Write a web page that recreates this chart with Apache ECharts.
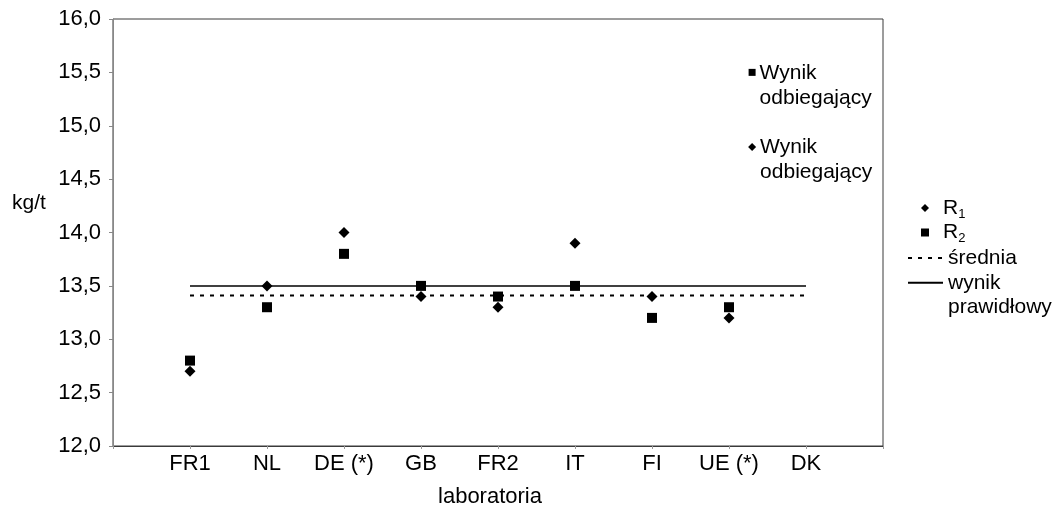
<!DOCTYPE html>
<html>
<head>
<meta charset="utf-8">
<script src="https://cdn.jsdelivr.net/npm/echarts@6/dist/echarts.min.js"></script>
<style>
html,body{margin:0;padding:0;background:#fff;}
#chart{width:1062px;height:513px;}
</style>
</head>
<body>
<div id="chart"></div>
<script>
// ---- data ----
var categories = ['FR1', 'NL', 'DE (*)', 'GB', 'FR2', 'IT', 'FI', 'UE (*)', 'DK'];
var r1Values = [12.7, 13.5, 14.0, 13.4, 13.3, 13.9, 13.4, 13.2];
var r2Values = [12.8, 13.3, 13.8, 13.5, 13.4, 13.5, 13.2, 13.3];
var meanValue = 13.41;        // średnia
var trueValue = 13.5;         // wynik prawidłowy
var outlierX = 8.3;           // annotation markers for outlying results
var outlierR2 = 15.5;
var outlierR1 = 14.8;
var yTicks = { min: 12, max: 16, step: 0.5 };

// ---- build ----
function pts(vals) { return vals.map(function (v, i) { return [i + 1, v]; }); }
var FONT = '"Liberation Sans", Arial, sans-serif';
var TXT = '#000';

var chart = echarts.init(document.getElementById('chart'), null, { renderer: 'canvas' });
var option = {
  backgroundColor: '#fff',
  animation: false,
  textStyle: { fontFamily: FONT, color: TXT },
  grid: { left: 113, right: 179, top: 19, bottom: 67, show: true, borderColor: '#3a3a3a', borderWidth: 1 },
  graphic: [
    { type: 'text', left: 12, top: 193, style: { text: 'kg/t', font: '21px ' + FONT, fill: TXT } }
  ],
  xAxis: {
    type: 'value', min: 0, max: categories.length + 1, interval: 1,
    splitLine: { show: false },
    axisLine: { lineStyle: { color: '#3a3a3a', width: 1 } },
    axisTick: { show: true, length: 3, lineStyle: { color: '#999' } },
    axisLabel: {
      margin: 7, fontSize: 22, color: TXT, fontFamily: FONT,
      formatter: function (v) { return categories[v - 1] || ''; }
    },
    name: 'laboratoria', nameLocation: 'middle', nameGap: 40,
    nameTextStyle: { fontSize: 22, color: TXT, fontFamily: FONT, padding: [0, 16, 0, 0] }
  },
  yAxis: {
    type: 'value', min: yTicks.min, max: yTicks.max, interval: yTicks.step,
    splitLine: { show: false },
    axisLine: { show: true, lineStyle: { color: '#888', width: 1 } },
    axisTick: { show: true, length: 4, lineStyle: { color: '#888' } },
    axisLabel: {
      margin: 12, fontSize: 22, color: TXT, fontFamily: FONT,
      formatter: function (v) { return v.toFixed(1).replace('.', ','); }
    }
  },
  legend: [
    {
      orient: 'vertical', left: 916, top: 191, itemWidth: 8, itemHeight: 8, itemGap: 0,
      data: ['R1', 'R2'],
      formatter: function (n) { return n === 'R1' ? 'R{s|1}' : 'R{s|2}'; },
      textStyle: {
        fontSize: 21, lineHeight: 24, color: TXT, fontFamily: FONT, padding: [0, 0, 0, 9],
        rich: { s: { fontSize: 13, fontFamily: FONT, color: TXT, padding: [12, 0, 0, 0] } }
      }
    },
    {
      orient: 'vertical', left: 902, top: 241, itemWidth: 35, itemHeight: 8,
      data: [{ name: 'średnia', itemStyle: { opacity: 0 } }],
      textStyle: { fontSize: 21, lineHeight: 24, color: TXT, fontFamily: FONT }
    },
    {
      orient: 'vertical', left: 902, top: 241, itemWidth: 35, itemHeight: 8,
      data: [{ name: 'wynik prawidłowy', itemStyle: { opacity: 0 } }],
      formatter: function () { return '\u00a0\nwynik\nprawidłowy'; },
      textStyle: { fontSize: 21, lineHeight: 24.5, color: TXT, fontFamily: FONT }
    }
  ],
  series: [
    {
      name: 'R1', type: 'scatter', data: pts(r1Values),
      symbol: 'diamond', symbolSize: 11, itemStyle: { color: '#000', opacity: 1 }, z: 5
    },
    {
      name: 'R2', type: 'scatter', data: pts(r2Values),
      symbol: 'rect', symbolSize: 10, itemStyle: { color: '#000', opacity: 1 }, z: 4
    },
    {
      name: 'średnia', type: 'line', data: [[1, meanValue], [categories.length, meanValue]],
      symbol: 'none', lineStyle: { color: '#000', width: 2, type: [4, 6] }, itemStyle: { color: '#000' }, z: 2
    },
    {
      name: 'wynik prawidłowy', type: 'line', data: [[1, trueValue], [categories.length, trueValue]],
      symbol: 'none', lineStyle: { color: '#000', width: 1.5, type: 'solid' }, itemStyle: { color: '#000' }, z: 3
    },
    {
      name: 'odbiegający R2', type: 'scatter', data: [[outlierX, outlierR2]],
      symbol: 'rect', symbolSize: 7, itemStyle: { color: '#000', opacity: 1 },
      label: {
        show: true, position: 'right', distance: 4, verticalAlign: 'top', offset: [0, -12],
        formatter: 'Wynik\nodbiegający', fontSize: 21, lineHeight: 25, color: TXT, fontFamily: FONT
      }
    },
    {
      name: 'odbiegający R1', type: 'scatter', data: [[outlierX, outlierR1]],
      symbol: 'diamond', symbolSize: 8, itemStyle: { color: '#000', opacity: 1 },
      label: {
        show: true, position: 'right', distance: 4, verticalAlign: 'top', offset: [0, -12],
        formatter: 'Wynik\nodbiegający', fontSize: 21, lineHeight: 25, color: TXT, fontFamily: FONT
      }
    }
  ]
};
chart.setOption(option);
</script>
</body>
</html>
